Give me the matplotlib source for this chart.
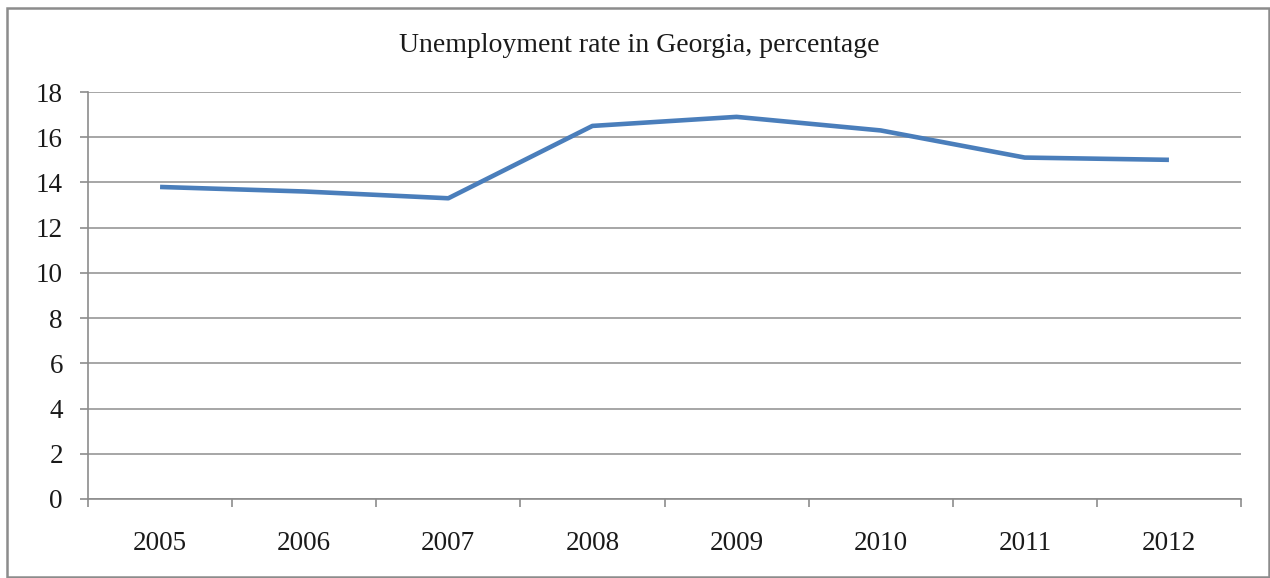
import matplotlib
matplotlib.use("Agg")
import matplotlib.pyplot as plt
from matplotlib.patches import Rectangle

years = ["2005", "2006", "2007", "2008", "2009", "2010", "2011", "2012"]
unemployment = [13.8, 13.6, 13.3, 16.5, 16.9, 16.3, 15.1, 15.0]
y_ticks = [0, 2, 4, 6, 8, 10, 12, 14, 16, 18]
title = "Unemployment rate in Georgia, percentage"

W, H = 1270, 578
fig = plt.figure(figsize=(W / 100, H / 100), dpi=100)
fig.patch.set_facecolor("white")

# outer chart frame
fig.patches.append(Rectangle((7 / W, 1 / H), 1262 / W, 569 / H,
                             transform=fig.transFigure, fill=False,
                             edgecolor="#8c8c8c", linewidth=1.8))

ax = fig.add_axes([88 / W, 1 - 499 / H, (1241 - 88) / W, (499 - 92) / H])
ax.set_facecolor("white")

x = list(range(len(years)))
ax.plot(x, unemployment, color="#4a7ebb", linewidth=3.3,
        solid_joinstyle="round", solid_capstyle="butt", zorder=3)

ax.set_xlim(-0.5, len(years) - 0.5)
ax.set_ylim(0, 18)
ax.set_yticks(y_ticks)
ax.set_yticklabels([str(v) for v in y_ticks])
ax.grid(axis="y", color="#a6a6a6", linewidth=1.4)
ax.set_axisbelow(True)

# category labels at centres, tick marks at boundaries
ax.set_xticks(x)
ax.set_xticklabels(years)
ax.set_xticks([i - 0.5 for i in range(len(years) + 1)], minor=True)
ax.tick_params(axis="x", which="major", length=0, pad=23)
ax.tick_params(axis="x", which="minor", length=6, width=1.2, color="#8c8c8c")
ax.tick_params(axis="y", length=6, width=1.2, color="#8c8c8c", pad=12)

for side in ("top", "right"):
    ax.spines[side].set_visible(False)
for side in ("left", "bottom"):
    ax.spines[side].set_color("#8c8c8c")
    ax.spines[side].set_linewidth(1.2)

font = "Liberation Serif"
for lbl in ax.get_xticklabels() + ax.get_yticklabels():
    lbl.set_fontfamily(font)
    lbl.set_fontsize(19.5)
    lbl.set_color("#1a1a1a")

fig.text(639 / W, 1 - 46 / H, title, ha="center", va="center",
         fontfamily=font, fontsize=20, color="#1a1a1a")

fig.savefig("out.png", dpi=100, facecolor="white")
